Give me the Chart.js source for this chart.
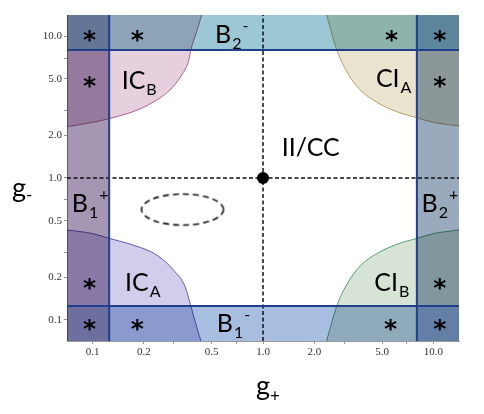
<!DOCTYPE html>
<html>
<head>
<meta charset="utf-8">
<script src="https://cdn.jsdelivr.net/npm/chart.js@4.4.1/dist/chart.umd.min.js"></script>
<style>
  html, body { margin: 0; padding: 0; background: #fff; }
  #wrap { width: 484px; height: 414px; position: relative; }
</style>
</head>
<body>
<div id="wrap"><canvas id="chart"></canvas></div>
<script>
// both axes are log and run from ~0.07 to ~14
var gMin = 0.0707, gMax = 14.14;
var bLow = 0.125, bHigh = 8;   // where the B strips start

var majorTicks = [0.1, 0.2, 0.5, 1, 2, 5, 10];
var minorTicks = [0.3, 0.7, 3, 7];

// boundary curves as [g+, g-]
var icBCurve = [[0.0707, 2.30], [0.1, 2.47], [0.125, 2.62], [0.173, 2.94], [0.227, 3.43], [0.285, 4.19], [0.334, 5.35], [0.365, 6.64], [0.377, 8.0], [0.408, 10.8], [0.437, 14.2]];
var icACurve = [[0.0707, 0.43], [0.1, 0.405], [0.125, 0.375], [0.173, 0.336], [0.238, 0.286], [0.298, 0.224], [0.349, 0.171], [0.377, 0.125], [0.408, 0.089], [0.432, 0.0707]];
var ciACurve = [[2.36, 14.2], [2.71, 8.0], [3.1, 5.64], [3.71, 4.19], [4.64, 3.43], [6.08, 2.94], [8, 2.66], [10, 2.47], [14.14, 2.33]];
var ciBCurve = [[2.36, 0.0707], [2.71, 0.125], [3.1, 0.177], [3.71, 0.239], [4.64, 0.292], [6.08, 0.34], [8, 0.375], [10, 0.405], [14.14, 0.43]];

var fixedPoint = [1, 1];
var ellipseCenter = [0.337, 0.599];

// region names: [main, subscript, superscript]
var regionNames = [['IC', 'B', ''], ['CI', 'A', ''], ['B', '2', '-'], ['B', '1', '+'], ['B', '2', '+'],
                   ['IC', 'A', ''], ['CI', 'B', ''], ['B', '1', '-'], ['II/CC', '', '']];
var regionAt = [[0.148, 4.93], [4.6, 5.07], [0.523, 10.4], [0.0755, 0.662], [8.53, 0.662],
                [0.155, 0.185], [4.5, 0.185], [0.535, 0.094], [1.287, 1.664]];
var starAt = [[0.096, 10.3], [0.096, 4.93], [0.183, 10.3], [5.69, 10.3], [10.9, 10.3], [10.9, 4.93],
              [0.096, 0.185], [0.096, 0.094], [0.183, 0.094], [10.9, 0.185], [5.6, 0.094], [10.9, 0.094]];

function pts(a) { return a.map(function (p) { return {x: p[0], y: p[1]}; }); }
function leftOf(a, v) { return a.filter(function (p) { return p[0] <= v; }); }
function rightOf(a, v) { return a.filter(function (p) { return p[0] >= v; }); }

function region(data, fill, color, border) {
    return {
        data: pts(data), fill: fill, backgroundColor: color,
        borderColor: border || 'rgba(0,0,0,0)', borderWidth: border ? 1 : 0,
        pointRadius: 0, cubicInterpolationMode: 'monotone', order: 3
    };
}
function rule(data, color, width, dash) {
    return {data: pts(data), fill: false, borderColor: color, borderWidth: width, borderDash: dash || [],
            pointRadius: 0, order: 2};
}

// dashed ellipse used as a point style
var ell = document.createElement('canvas');
ell.width = 88; ell.height = 36;
var ec = ell.getContext('2d');
ec.setLineDash([6, 4]);
ec.lineWidth = 1.6;
ec.strokeStyle = '#111';
ec.beginPath();
ec.ellipse(44, 18, 41, 15.5, 0, 0, 2 * Math.PI);
ec.stroke();

var navy = '#1F3F8A';

var datasets = [
    region([[gMin, gMax], [bLow, gMax]], 'start', '#A596B4'),
    region([[bHigh, gMax], [gMax, gMax]], 'start', '#98AABC'),
    region([[gMin, bHigh], [gMax, bHigh]], 'end', '#9BC8D4'),
    region([[gMin, bLow], [gMax, bLow]], 'start', '#A8BEE0'),
    region(leftOf(icBCurve, bLow), {value: bHigh}, '#E6D0DE', '#B8709E'),
    region(rightOf(icBCurve, bLow), 'end', '#E6D0DE', '#B8709E'),
    region(leftOf(icACurve, bLow), {value: bLow}, '#D2CDEB', '#6A68B8'),
    region(rightOf(icACurve, bLow), 'start', '#D2CDEB', '#6A68B8'),
    region(rightOf(ciACurve, bHigh), {value: bHigh}, '#E9E3CF', '#C2AA72'),
    region(leftOf(ciACurve, bHigh), 'end', '#E9E3CF', '#C2AA72'),
    region(rightOf(ciBCurve, bHigh), {value: bLow}, '#D7E4D5', '#5FA88A'),
    region(leftOf(ciBCurve, bHigh), 'start', '#D7E4D5', '#5FA88A'),
    rule([[bLow, gMin], [bLow, gMax]], navy, 2),
    rule([[bHigh, gMin], [bHigh, gMax]], navy, 2),
    rule([[gMin, bLow], [gMax, bLow]], navy, 2),
    rule([[gMin, bHigh], [gMax, bHigh]], navy, 2),
    rule([[fixedPoint[0], gMin], [fixedPoint[0], gMax]], '#111', 1.5, [4, 2.5]),
    rule([[gMin, fixedPoint[1]], [gMax, fixedPoint[1]]], '#111', 1.5, [4, 2.5]),
    {data: pts([fixedPoint]), showLine: false, fill: false, pointRadius: 6, pointBackgroundColor: '#000',
     pointBorderWidth: 0, order: 1},
    {data: pts([ellipseCenter]), showLine: false, fill: false, pointStyle: ell, pointRadius: 5, order: 1}
];

function drawLabel(ctx, x, y, parts) {
    var base = y + 9;
    ctx.textAlign = 'left';
    ctx.textBaseline = 'alphabetic';
    ctx.font = '25px Lato';
    ctx.fillText(parts[0], x, base);
    var x2 = x + ctx.measureText(parts[0]).width + 1;
    ctx.font = '16px Lato';
    if (parts[1]) {
        ctx.fillText(parts[1], x2, base + 6);
        x2 += ctx.measureText(parts[1]).width;
    }
    if (parts[2]) ctx.fillText(parts[2], x2 + 1, base - 12);
}

var texts = {
    id: 'texts',
    // overlapping shaded regions darken each other, so fills are multiplied
    beforeDatasetsDraw: function (chart) {
        chart.ctx.globalCompositeOperation = 'multiply';
    },
    beforeDatasetDraw: function (chart, args) {
        if (!chart.data.datasets[args.index].fill) chart.ctx.globalCompositeOperation = 'source-over';
    },
    afterDatasetsDraw: function (chart) {
        var ctx = chart.ctx, xs = chart.scales.x, ys = chart.scales.y;
        ctx.save();
        ctx.globalCompositeOperation = 'source-over';
        ctx.fillStyle = '#000';
        regionNames.forEach(function (n, i) {
            drawLabel(ctx, xs.getPixelForValue(regionAt[i][0]), ys.getPixelForValue(regionAt[i][1]), n);
        });
        ctx.font = 'bold 25px "DejaVu Sans"';
        ctx.textAlign = 'center';
        ctx.textBaseline = 'alphabetic';
        starAt.forEach(function (p) {
            ctx.fillText('*', xs.getPixelForValue(p[0]), ys.getPixelForValue(p[1]) + 14);
        });
        ctx.restore();
    },
    afterDraw: function (chart) {
        var ctx = chart.ctx, a = chart.chartArea;
        ctx.save();
        ctx.fillStyle = '#000';
        ctx.textAlign = 'left';
        ctx.textBaseline = 'alphabetic';
        var cx = (a.left + a.right) / 2 - 7;
        ctx.font = '27px Lato';
        ctx.fillText('g', cx, 395);
        var w = ctx.measureText('g').width;
        ctx.font = '17px Lato';
        ctx.fillText('+', cx + w, 402);
        ctx.font = '27px Lato';
        ctx.fillText('g', 12, 197);
        ctx.font = '17px Lato';
        ctx.fillText('-', 12 + w, 201);
        ctx.restore();
    }
};

function axis(fitter) {
    return {
        type: 'logarithmic', min: gMin, max: gMax,
        afterBuildTicks: function (s) {
            s.ticks = majorTicks.concat(minorTicks).sort(function (p, q) { return p - q; })
                .map(function (v) { return {value: v}; });
        },
        afterFit: fitter,
        ticks: {
            autoSkip: false, maxRotation: 0, padding: 2, color: '#333',
            font: {family: 'Liberation Serif', size: 11},
            callback: function (v) { return majorTicks.indexOf(v) >= 0 ? v.toFixed(1) : ''; }
        },
        grid: {drawOnChartArea: false, tickLength: 3, color: '#999'},
        border: {color: '#999'}
    };
}

new Chart(document.getElementById('chart'), {
    type: 'line',
    data: {datasets: datasets},
    options: {
        responsive: true,
        maintainAspectRatio: false,
        animation: false,
        layout: {padding: {top: 15, right: 25, left: 0, bottom: 0}},
        plugins: {legend: {display: false}, tooltip: {enabled: false}},
        scales: {
            x: axis(function (s) { s.height = 73; }),
            y: axis(function (s) { s.width = 67; })
        }
    },
    plugins: [texts]
});
</script>
</body>
</html>
